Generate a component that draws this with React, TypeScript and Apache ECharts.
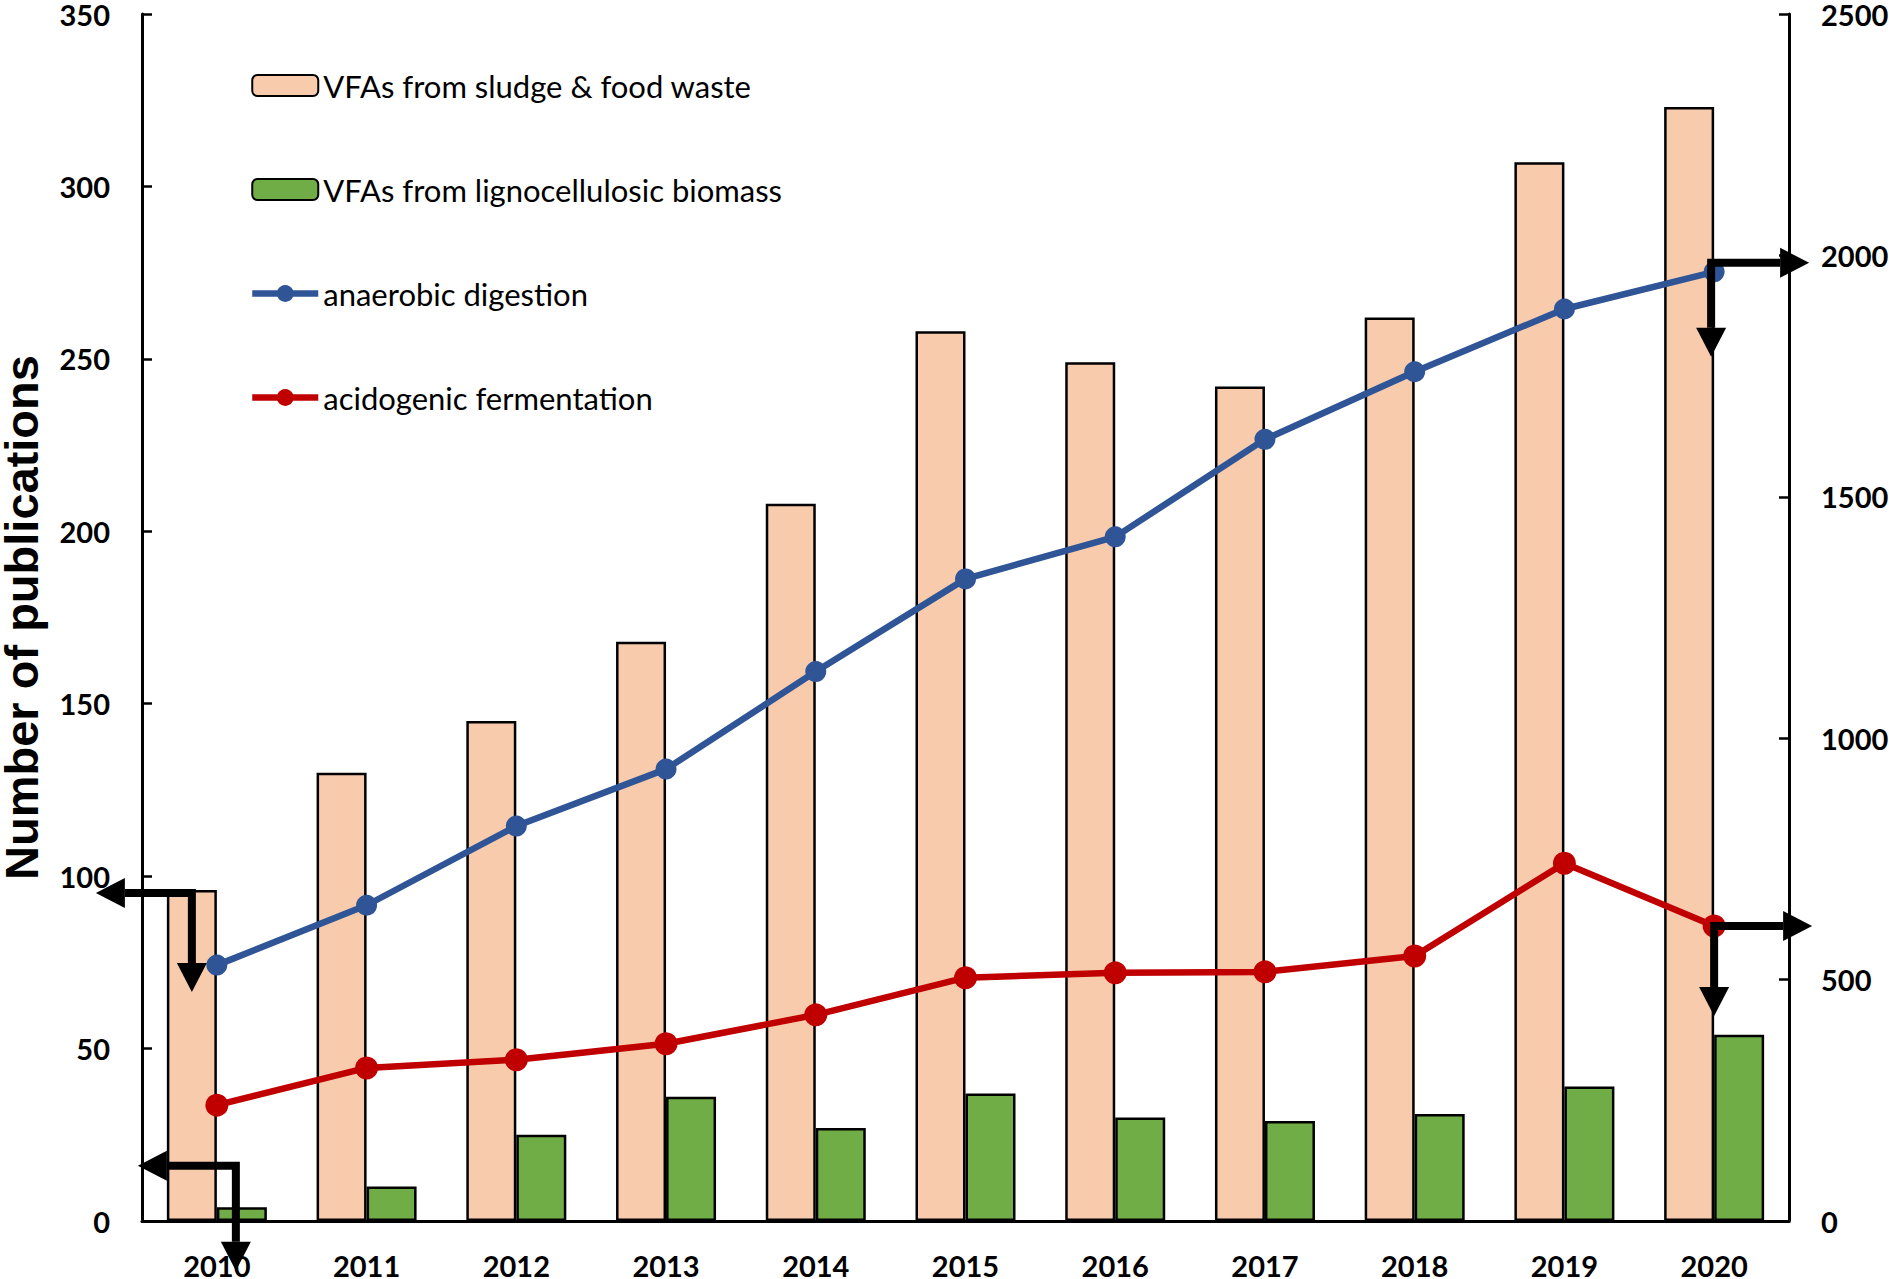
import React, { useEffect, useRef } from "react";
import * as echarts from "echarts";

const years = ["2010", "2011", "2012", "2013", "2014", "2015", "2016", "2017", "2018", "2019", "2020"];
const sludgeFoodWaste = [96, 130, 145, 168, 208, 258, 249, 242, 262, 307, 323];
const lignocellulosic = [4, 10, 25, 36, 27, 37, 30, 29, 31, 39, 54];
const anaerobicDigestion = [530, 654, 818, 936, 1138, 1330, 1417, 1619, 1759, 1889, 1966];
const acidogenicFermentation = [240, 317, 334, 367, 427, 504, 514, 516, 549, 741, 611];

const seriesNames = [
  "VFAs from sludge & food waste",
  "VFAs from lignocellulosic biomass",
  "anaerobic digestion",
  "acidogenic fermentation",
];

const leftAxis = { min: 0, max: 350, interval: 50 };
const rightAxis = { min: 0, max: 2500, interval: 500 };

const tickFont = { fontFamily: "Lato", fontWeight: "bold" as const, fontSize: 29, color: "#000" };

export default function App() {
  const ref = useRef<HTMLDivElement>(null);

  useEffect(() => {
    if (!ref.current) return;
    const chart = echarts.init(ref.current, undefined, { renderer: "svg" });
    const option: any = {
      animation: false,
      backgroundColor: "#fff",
      grid: { left: 142, right: 100, top: 14, bottom: 58, containLabel: false, outerBoundsMode: "none" },
      legend: {
        data: seriesNames,
        orient: "vertical",
        left: 244,
        top: 65,
        itemWidth: 66,
        itemHeight: 21,
        itemGap: 73,
        lineStyle: { width: 6.5 },
        textStyle: { fontFamily: "Lato", fontSize: 31, color: "#000" },
      },
      xAxis: [
        {
          type: "category",
          data: years,
          position: "bottom",
          axisLine: { lineStyle: { color: "#b4b4b4", width: 3 } },
          axisTick: { show: false },
          axisLabel: { ...tickFont, margin: 30 },
        },
        {
          type: "category",
          data: years,
          position: "top",
          axisLine: { lineStyle: { color: "#000", width: 3 } },
          axisTick: { show: false },
          axisLabel: { show: false },
        },
      ],
      yAxis: [
        {
          type: "value",
          position: "left",
          ...leftAxis,
          name: "Number of publications",
          nameLocation: "middle",
          nameGap: 97,
          nameTextStyle: { fontFamily: "Liberation Sans", fontWeight: "bold", fontSize: 47, color: "#000" },
          axisLine: { show: true, lineStyle: { color: "#000", width: 3 } },
          axisTick: { show: true, inside: true, length: 10, lineStyle: { color: "#000", width: 2.5 } },
          axisLabel: { ...tickFont, margin: 32, formatter: (v: number) => String(v) },
          splitLine: { show: false },
        },
        {
          type: "value",
          position: "right",
          ...rightAxis,
          axisLine: { show: true, lineStyle: { color: "#000", width: 3 } },
          axisTick: { show: true, inside: true, length: 10, lineStyle: { color: "#000", width: 2.5 } },
          axisLabel: { ...tickFont, margin: 32, formatter: (v: number) => String(v) },
          splitLine: { show: false },
        },
      ],
      series: [
        {
          name: seriesNames[0],
          type: "bar",
          yAxisIndex: 0,
          data: sludgeFoodWaste,
          barWidth: 50,
          barGap: "0%",
          itemStyle: { color: "#F8CBAD", borderColor: "#000", borderWidth: 2.5 },
        },
        {
          name: seriesNames[1],
          type: "bar",
          yAxisIndex: 0,
          data: lignocellulosic,
          barWidth: 50,
          barGap: "0%",
          itemStyle: { color: "#70AD47", borderColor: "#000", borderWidth: 2.5 },
        },
        {
          name: seriesNames[2],
          type: "line",
          yAxisIndex: 1,
          data: anaerobicDigestion,
          symbol: "circle",
          symbolSize: 21,
          lineStyle: { color: "#2F5597", width: 6.5 },
          itemStyle: { color: "#2F5597" },
          z: 5,
        },
        {
          name: seriesNames[3],
          type: "line",
          yAxisIndex: 1,
          data: acidogenicFermentation,
          symbol: "circle",
          symbolSize: 23,
          lineStyle: { color: "#C00000", width: 6.5 },
          itemStyle: { color: "#C00000" },
          z: 5,
        },
      ],
    };
    chart.setOption(option);

    // annotation arrows anchored to data points
    const px = (cat: string, val: number, yIdx: number) =>
      chart.convertToPixel({ xAxisIndex: 0, yAxisIndex: yIdx }, [cat, val]) as number[];
    const LW = 8;
    const HEAD_L = 29;
    const HEAD_W = 15;
    const arrowEls = (cx: number, cy: number, hDir: number, hLen: number, vLen: number) => {
      const hTip = cx + hDir * hLen;
      const hBase = hTip - hDir * HEAD_L;
      const vTip = cy + vLen;
      const vBase = vTip - HEAD_L;
      return [
        {
          type: "polyline",
          z: 100,
          shape: { points: [[hBase, cy], [cx, cy], [cx, vBase]] },
          style: { stroke: "#000", lineWidth: LW, fill: null, lineJoin: "miter", lineCap: "butt" },
        },
        {
          type: "polygon",
          z: 100,
          shape: { points: [[hTip, cy], [hBase, cy - HEAD_W], [hBase, cy + HEAD_W]] },
          style: { fill: "#000" },
        },
        {
          type: "polygon",
          z: 100,
          shape: { points: [[cx, vTip], [cx - HEAD_W, vBase], [cx + HEAD_W, vBase]] },
          style: { fill: "#000" },
        },
      ];
    };
    const first = years[0];
    const last = years[years.length - 1];
    const a = px(first, sludgeFoodWaste[0], 0);
    const b = px(first, 16, 0);
    const c = px(last, anaerobicDigestion[anaerobicDigestion.length - 1], 1);
    const d = px(last, acidogenicFermentation[acidogenicFermentation.length - 1], 1);
    const graphic = [
      ...arrowEls(a[0] - 25, a[1] + 3, -1, 96, 99),
      ...arrowEls(b[0] + 19, b[1], -1, 98, 105),
      ...arrowEls(c[0] - 3, c[1] - 9, 1, 98, 94),
      ...arrowEls(d[0], d[1], 1, 98, 90),
    ];
    chart.setOption({ graphic });

    return () => chart.dispose();
  }, []);

  return (
    <div
      ref={ref}
      style={{ position: "fixed", left: 0, top: 0, width: 1889, height: 1279, background: "#fff" }}
    />
  );
}
